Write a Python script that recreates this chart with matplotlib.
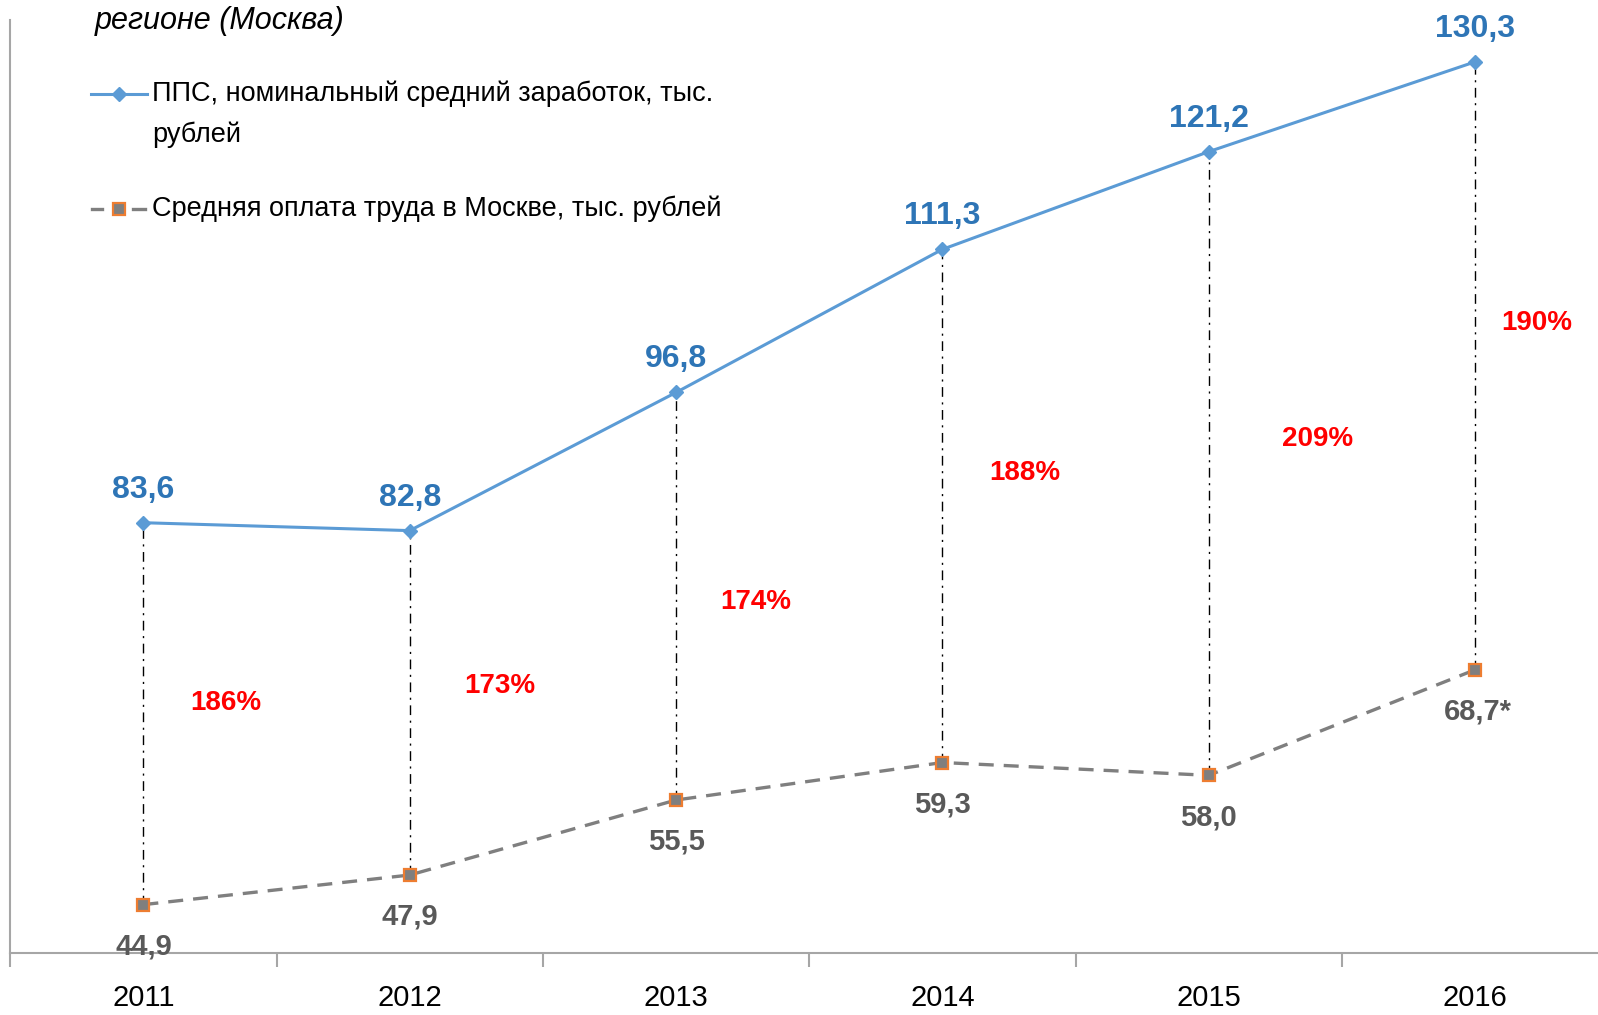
import matplotlib
matplotlib.use("Agg")
import matplotlib.pyplot as plt
from matplotlib.lines import Line2D
import numpy as np

years = ["2011", "2012", "2013", "2014", "2015", "2016"]
pps = [83.6, 82.8, 96.8, 111.3, 121.2, 130.3]
moscow = [44.9, 47.9, 55.5, 59.3, 58.0, 68.7]
moscow_labels = ["44,9", "47,9", "55,5", "59,3", "58,0", "68,7*"]
legend_pps = "ППС, номинальный средний заработок, тыс.\nрублей"
legend_msk = "Средняя оплата труда в Москве, тыс. рублей"
title_text = "регионе (Москва)"

FONT = ["Liberation Sans", "DejaVu Sans"]
plt.rcParams['font.family'] = FONT

BLUE = "#5B9BD5"
BLUE_TXT = "#2E75B6"
GRAY = "#7F7F7F"
GRAY_TXT = "#595959"
ORANGE = "#ED7D31"
RED = "#FF0000"
AX = "#A6A6A6"

fig = plt.figure(figsize=(15.98, 10.15), dpi=100)
ax = fig.add_axes([0.0064, 0.0611, 1.0, 0.9188])
x = np.arange(len(years))
ax.set_xlim(-0.5, 5.5)
ax.set_ylim(40, 134.5)

# connectors
ax.vlines(x, moscow, pps, colors="black", linewidth=1.0,
          linestyles=[(0, (7, 4, 1.5, 4))], zorder=2)

ax.plot(x, pps, color=BLUE, lw=2.2, marker="D", ms=7, mfc=BLUE, mec=BLUE, zorder=3)
ax.plot(x, moscow, color=GRAY, lw=2.4, dashes=(4.5, 3), marker="s", ms=9,
        mfc=GRAY, mec=ORANGE, mew=1.6, zorder=3)

for xi, v in zip(x, pps):
    ax.annotate(f"{v:.1f}".replace(".", ","), (xi, v), xytext=(0, 13),
                textcoords="offset points", ha="center", va="bottom",
                fontsize=23, fontweight="bold", color=BLUE_TXT)
for xi, v, lab in zip(x, moscow, moscow_labels):
    off = (2, -20) if lab.endswith("*") else (0, -20)
    ax.annotate(lab, (xi, v), xytext=off, textcoords="offset points",
                ha="center", va="top", fontsize=21, fontweight="bold", color=GRAY_TXT)

pct_pos = [(0.31, 65.3), (0.34, 67.1), (0.30, 75.6), (0.31, 88.6), (0.41, 92.1), (0.23, 103.8)]
for xi, a, b, (dx, y) in zip(x, pps, moscow, pct_pos):
    ax.text(xi + dx, y, f"{round(a / b * 100)}%", ha="center", va="center",
            fontsize=20, fontweight="bold", color=RED)

for s in ["top", "right"]:
    ax.spines[s].set_visible(False)
for s in ["left", "bottom"]:
    ax.spines[s].set_color(AX)
    ax.spines[s].set_linewidth(1.5)
ax.set_yticks([])
ax.set_xticks(x)
ax.set_xticklabels(years, fontsize=21)
ax.tick_params(axis="x", which="major", length=0, pad=22)
ax.set_xticks(np.arange(-0.5, 6.0, 1.0), minor=True)
ax.tick_params(axis="x", which="minor", length=10, width=1.5, color=AX, direction="out")

# title fragment
fig.text(0.059, 0.979, title_text, fontsize=22, style="italic", ha="left", va="center")

# legend (manual)
def fy(ypx):
    return 1 - ypx / 1015.0

l1 = Line2D([0.057, 0.092], [fy(94), fy(94)], transform=fig.transFigure, color=BLUE, lw=2.2)
m1 = Line2D([0.0745], [fy(94)], transform=fig.transFigure, marker="D", ms=7, color=BLUE)
fig.lines.extend([l1, m1])
fig.text(0.095, fy(94), legend_pps.split("\n")[0], fontsize=19.5, va="center", ha="left")
fig.text(0.095, fy(135), legend_pps.split("\n")[1], fontsize=19.5, va="center", ha="left")

l2a = Line2D([0.0574, 0.0640], [fy(209), fy(209)], transform=fig.transFigure, color=GRAY, lw=2.4)
l2b = Line2D([0.0830, 0.0906], [fy(209), fy(209)], transform=fig.transFigure, color=GRAY, lw=2.4)
m2 = Line2D([0.0745], [fy(209)], transform=fig.transFigure, marker="s", ms=9, mfc=GRAY,
            mec=ORANGE, mew=1.6, color=GRAY)
fig.lines.extend([l2a, l2b, m2])
fig.text(0.095, fy(209), legend_msk, fontsize=19.5, va="center", ha="left")

fig.savefig("out.png", dpi=100)
